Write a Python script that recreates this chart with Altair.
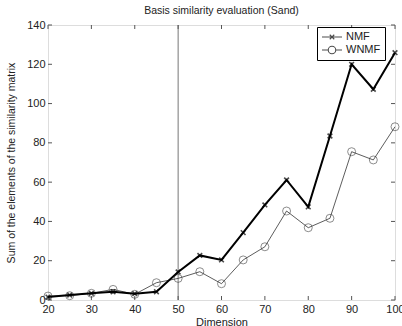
import altair as alt
import pandas as pd

# Basis similarity for each dimension
dimension = [20, 25, 30, 35, 40, 45, 50, 55, 60, 65, 70, 75, 80, 85, 90, 95, 100]
nmf = [1.5, 2.5, 3.4, 4.2, 3.2, 4.2, 14.3, 22.7, 20.4, 34.3, 48.4, 61.1, 47.4, 83.5, 120.0, 107.3, 125.9]
wnmf = [2.0, 2.2, 3.4, 5.4, 2.9, 8.8, 11.0, 14.4, 8.3, 20.4, 27.1, 45.3, 36.8, 41.6, 75.5, 71.3, 88.2]
series = ["NMF", "WNMF"]
x_ticks = [20, 30, 40, 50, 60, 70, 80, 90, 100]
y_ticks = [0, 20, 40, 60, 80, 100, 120, 140]
marker_line = [50]

W, H = 347, 275
FONT = "Liberation Sans"
TEXT = "#222222"
FRAME = "#555555"

df = pd.DataFrame(
    {
        "Dimension": dimension * 2,
        "value": nmf + wnmf,
        "series": ["NMF"] * len(nmf) + ["WNMF"] * len(wnmf),
    }
)
nmf_df = df[df.series == "NMF"]
wnmf_df = df[df.series == "WNMF"]
xt = pd.DataFrame({"t": x_ticks})
yt = pd.DataFrame({"t": y_ticks})
vl = pd.DataFrame({"d": marker_line})

xs = alt.Scale(domain=[20, 100], nice=False)
ys = alt.Scale(domain=[0, 140], nice=False)

x_axis = alt.Axis(
    values=x_ticks, grid=False, ticks=False, domain=False, labelFont=FONT,
    labelFontSize=11, labelColor=TEXT, labelPadding=3, title="Dimension",
    titleFont=FONT, titleFontSize=11, titleFontWeight="normal", titleColor=TEXT,
    titlePadding=2, labelFlush=False, labelOverlap=False,
)
y_axis = alt.Axis(
    values=y_ticks, grid=False, ticks=False, domain=False, labelFont=FONT,
    labelFontSize=11, labelColor=TEXT, labelPadding=3,
    title="Sum of the elements of the similarity matrix", titleFont=FONT,
    titleFontSize=10.5, titleFontWeight="normal", titleColor=TEXT, titlePadding=10,
    labelFlush=False, labelOverlap=False,
)

X = alt.X("Dimension:Q", scale=xs, axis=x_axis)
Y = alt.Y("value:Q", scale=ys, axis=y_axis)

vline = alt.Chart(vl).mark_rule(color="#777777", strokeWidth=1).encode(
    x=alt.X("d:Q", scale=xs, axis=x_axis)
)

# inward tick marks on all four sides
tick_b = alt.Chart(xt).mark_rule(color=FRAME).encode(
    x=alt.X("t:Q", scale=xs, axis=x_axis), y=alt.value(H), y2=alt.value(H - 4)
)
tick_t = alt.Chart(xt).mark_rule(color=FRAME).encode(
    x=alt.X("t:Q", scale=xs, axis=x_axis), y=alt.value(0), y2=alt.value(4)
)
tick_l = alt.Chart(yt).mark_rule(color=FRAME).encode(
    y=alt.Y("t:Q", scale=ys, axis=y_axis), x=alt.value(0), x2=alt.value(4)
)
tick_r = alt.Chart(yt).mark_rule(color=FRAME).encode(
    y=alt.Y("t:Q", scale=ys, axis=y_axis), x=alt.value(W), x2=alt.value(W - 4)
)

nmf_line = alt.Chart(nmf_df).mark_line(color="black", strokeWidth=2).encode(x=X, y=Y)
nmf_pts = alt.Chart(nmf_df).mark_point(
    shape="M-1,-1L1,1M-1,1L1,-1", size=22, color="black", strokeWidth=1.6, filled=False
).encode(x=X, y=Y)
wnmf_line = alt.Chart(wnmf_df).mark_line(color="#333333", strokeWidth=0.8).encode(x=X, y=Y)
wnmf_pts = alt.Chart(wnmf_df).mark_point(
    shape="circle", size=64, color="#333333", strokeWidth=0.8, filled=False
).encode(x=X, y=Y)

# legend entries: line segment with marker
legend_layer = alt.Chart(df).transform_filter("false").mark_point(
    filled=False, color="black", strokeWidth=1.2
).encode(
    x=X,
    y=Y,
    shape=alt.Shape(
        "series:N",
        scale=alt.Scale(
            domain=series,
            range=[
                "M-2,0L2,0M-0.45,-0.45L0.45,0.45M-0.45,0.45L0.45,-0.45",
                "M-2,0L-0.75,0M0.75,0L2,0M-0.75,0A0.75,0.75,0,1,1,0.75,0A0.75,0.75,0,1,1,-0.75,0",
            ],
        ),
        legend=alt.Legend(
            title=None, orient="none", legendX=269, legendY=2, symbolSize=100,
            symbolStrokeColor="black", symbolStrokeWidth=1.1, labelFont=FONT,
            labelFontSize=11, labelColor=TEXT, strokeColor="black", fillColor="white",
            padding=4, rowPadding=2, labelOffset=8, symbolOffset=5,
            labelExpr="datum.label + '\u2003\u2002'",
        ),
    ),
)

chart = (
    alt.layer(
        vline, tick_b, tick_t, tick_l, tick_r,
        wnmf_line, wnmf_pts, nmf_line, nmf_pts, legend_layer,
    )
    .properties(
        width=W,
        height=H,
        autosize=alt.AutoSizeParams(type="none"),
        padding={"left": 48, "top": 25, "right": 7, "bottom": 26},
        title=alt.TitleParams(
            "Basis similarity evaluation (Sand)", font=FONT, fontSize=10.5,
            fontWeight="normal", color=TEXT, offset=3,
        ),
    )
    .configure_view(stroke=FRAME, strokeWidth=1)
    .configure(background="white")
)

chart.save("out.html", embed_options={"renderer": "svg", "actions": False})
